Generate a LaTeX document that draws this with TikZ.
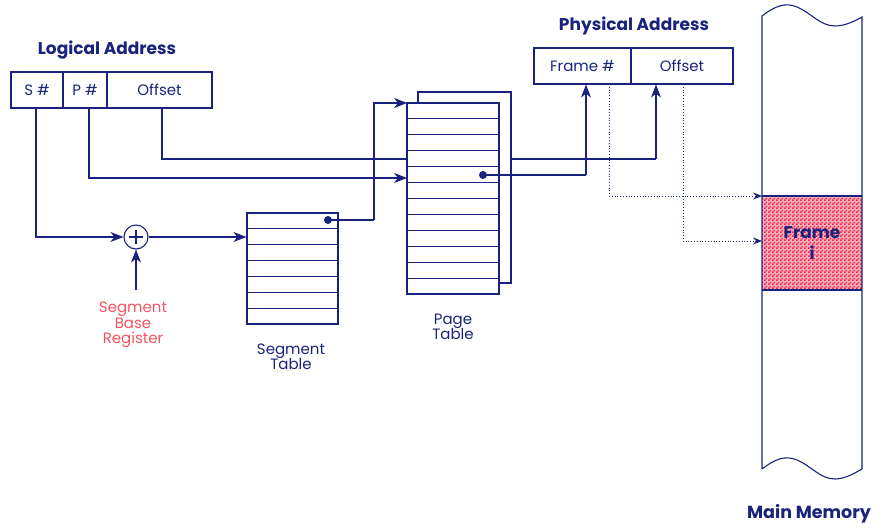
\documentclass[tikz,border=0pt]{standalone}
\usepackage{fontspec}
\setmainfont{Poppins}
\usetikzlibrary{arrows.meta,patterns.meta}
\definecolor{navy}{RGB}{25,35,125}
\definecolor{sbred}{RGB}{240,85,100}
\definecolor{chk}{RGB}{238,30,70}
\tikzdeclarepattern{name=finechk, type=uncolored, bottom left={(0pt,0pt)}, top right={(4pt,4pt)}, tile size={(4pt,4pt)},
  code={\fill (0pt,0pt) rectangle (2pt,2pt); \fill (2pt,2pt) rectangle (4pt,4pt);}}
\tikzset{
  ln/.style={draw=navy, line width=1.1pt},
  arr/.style={ln, -{Stealth[length=13pt,width=10pt,inset=4pt]}},
  dotarr/.style={draw=navy, line width=0.8pt, dotted, -{Stealth[length=9pt,width=7pt,inset=3pt]}},
  field/.style={draw=navy, line width=1.1pt, inner sep=0pt, minimum height=36pt, text=navy, font=\fontsize{15}{17}\selectfont},
  lbl/.style={text=navy, align=center, font=\fontsize{15}{15.5}\selectfont},
  ttl/.style={text=navy, font=\fontsize{17}{19}\selectfont\bfseries},
  dotc/.style={circle, fill=navy, inner sep=0pt, minimum size=8pt},
}
\begin{document}
\begin{tikzpicture}[x=1pt,y=-1pt]
\useasboundingbox (0,0) rectangle (875,529);
% titles
\node[ttl] (lt) at (107,50) {Logical Address};
\node[ttl] (pt) at (634,26) {Physical Address};
\node[ttl, font=\fontsize{17.5}{19}\selectfont\bfseries] (mm) at (809,514) {Main Memory};
% logical address fields
\node[field, minimum width=52pt] (S) at (37,90) {S \#};
\node[field, minimum width=44pt] (P) at (85,90) {P \#};
\node[field, minimum width=105pt] (O) at (159.5,90) {Offset};
% physical address fields
\node[field, minimum width=97pt] (F) at (582.5,66) {Frame \#};
\node[field, minimum width=102pt] (PO) at (682,66) {Offset};
% adder
\node[circle, draw=navy, line width=1.1pt, minimum size=24pt, inner sep=0pt] (plus) at (136,237) {};
\draw[ln] (plus.center) ++(-7,0) -- ++(14,0);
\draw[ln] (plus.center) ++(0,-7) -- ++(0,14);
\node[lbl, text=sbred] (sbr) at (133,325) {Segment\\Base\\Register};
\coordinate (sbrtop) at (136,290);
% offset line (behind page table)
\coordinate (o1) at (162,108);
\coordinate (o2) at (656,159);
\draw[ln] (o1) |- (o2);
\draw[arr] (o2) -- (o2 |- PO.south);
% page table back
\draw[ln, fill=white] (418,92) rectangle (511,283);
% page table front
\node[draw=navy, line width=1.1pt, fill=white, minimum width=92pt, minimum height=191pt, inner sep=0pt] (ptab) at (453,198.5) {};
\foreach \i in {1,...,11} \draw[ln] (407,103+\i*15.92) -- (499,103+\i*15.92);
\node[lbl] (ptl) at (453,327) {Page\\Table};
% segment table
\node[draw=navy, line width=1.1pt, fill=white, minimum width=91pt, minimum height=111pt, inner sep=0pt] (seg) at (292.5,268.5) {};
\foreach \i in {1,...,6} \draw[ln] (247,213+\i*15.86) -- (338,213+\i*15.86);
\node[lbl] (stl) at (291,357) {Segment\\Table};
% S# path
\coordinate (s1) at (36,108);
\draw[arr] (s1) |- (plus.west);
\draw[arr] (plus.east) -- (seg.west |- plus);
\draw[arr] (sbrtop) -- (plus.south);
% P# path
\coordinate (p1) at (89,108);
\coordinate (p2) at (407,178);
\draw[arr] (p1) |- (p2);
% segment table entry -> page table
\node[dotc] (sd) at (328,220) {};
\coordinate (sk) at (374,220);
\coordinate (ptop) at (407,103);
\draw[ln] (sd.center) -- (sk);
\draw[arr] (sk) |- (ptop);
% page table entry -> frame #
\node[dotc] (pd) at (483,175) {};
\coordinate (pk) at (586,175);
\draw[ln] (pd.center) -- (pk);
\draw[arr] (pk) -- (pk |- F.south);
% main memory
\fill[chk!35] (762,196) rectangle (862,290);
\fill[pattern=finechk, pattern color=chk] (762,196) rectangle (862,290);
\draw[ln] (762,196) -- (862,196);
\draw[ln] (762,290) -- (862,290);
\draw[ln] (762,469) -- (762,16)
  .. controls (775,6) and (785,2) .. (797,7)
  .. controls (810,12) and (820,26) .. (835,26)
  .. controls (845,26) and (855,21) .. (862,17)
  -- (862,469)
  .. controls (855,473) and (845,479) .. (835,479)
  .. controls (820,479) and (810,465) .. (797,460)
  .. controls (785,455) and (775,459) .. (762,469);
\node[text=navy, align=center, font=\fontsize{17}{21}\selectfont\bfseries] (fi) at (812,243) {Frame\\i};
\coordinate (mf) at (762,196);
\coordinate (mo) at (762,241);
% dotted
\coordinate (d1) at (609,84);
\coordinate (d2) at (683,84);
\draw[dotarr] (d1) |- (mf);
\draw[dotarr] (d2) |- (mo);
\end{tikzpicture}
\end{document}
